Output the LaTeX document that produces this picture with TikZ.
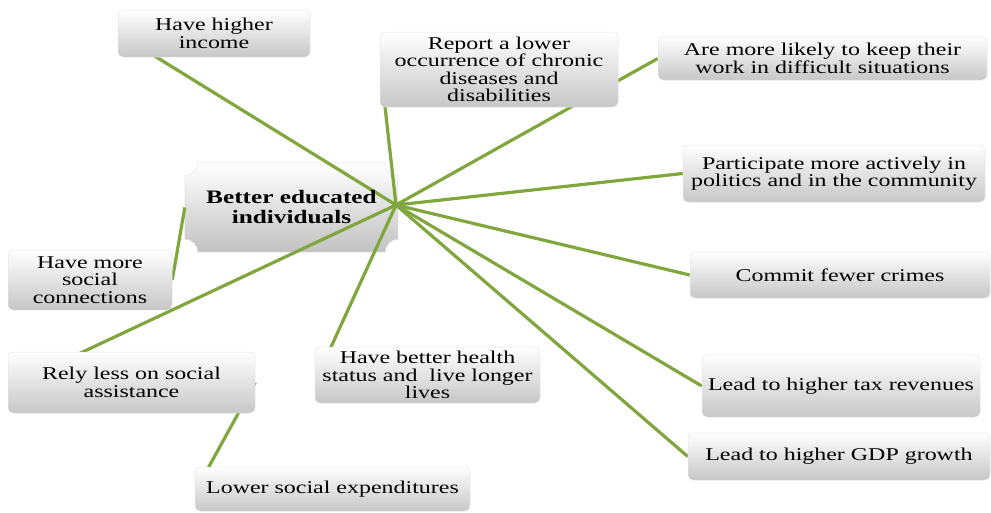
\documentclass[tikz,border=0pt]{standalone}
\usepackage{fontspec}
\setmainfont{Liberation Serif}[FakeStretch=1.33]
\usetikzlibrary{calc}
\definecolor{linegreen}{RGB}{128,166,62}
\pgfdeclarelayer{plaquelayer}
\pgfdeclarelayer{linelayer}
\pgfsetlayers{plaquelayer,linelayer,main}
\begin{document}
\begin{tikzpicture}[x=1pt,y=-1pt,
  box/.style={rounded corners=5pt, top color=white, bottom color=black!22,
    draw=black!10, line width=0.5pt, align=center, inner sep=0pt,
    font=\fontsize{18pt}{17.5pt}\selectfont},
  conn/.style={draw=linegreen, line width=3.2pt}]
\useasboundingbox (0,0) rectangle (991,512);

% outer boxes
\node[box, minimum width=192pt, minimum height=47pt] (income) at (214,33.5) {Have higher\\income};
\node[box, minimum width=238pt, minimum height=75pt] (report) at (499,69.5) {Report a lower\\occurrence of chronic\\diseases and\\disabilities};
\node[box, minimum width=329pt, minimum height=43pt] (likely) at (822.5,58.5) {Are more likely to keep their\\work in difficult situations};
\node[box, minimum width=302pt, minimum height=57pt] (particip) at (834,173.5) {Participate more actively in\\politics and in the community};
\node[box, minimum width=164pt, minimum height=60pt] (social) at (90,280) {Have more\\social\\connections};
\node[box, minimum width=300pt, minimum height=46pt] (crimes) at (840,275) {Commit fewer crimes};
\node[box, minimum width=247pt, minimum height=61pt] (rely) at (131.5,382.5) {Rely less on social\\assistance};
\node[box, minimum width=225pt, minimum height=56pt] (health) at (427.5,375) {Have better health\\status and \ live longer\\lives};
\node[box, minimum width=278pt, minimum height=62pt] (tax) at (841,386) {Lead to higher tax revenues};
\node[box, minimum width=302pt, minimum height=47pt] (gdp) at (839,456.5) {Lead to higher GDP growth};
\node[box, minimum width=275pt, minimum height=44pt] (lower) at (332.5,489) {Lower social expenditures};

% central plaque
\node[align=center, inner sep=0pt, minimum width=213pt, minimum height=89pt,
  font=\fontsize{19pt}{20pt}\selectfont\bfseries] (edu) at (291.5,207.5) {Better educated\\individuals};
\begin{pgfonlayer}{plaquelayer}
\path[top color=white, bottom color=black!24, draw=black!10, line width=0.5pt]
  ($(edu.north west)+(13pt,0pt)$) -- ($(edu.north east)+(-13pt,0pt)$)
  arc[start angle=180, end angle=270, radius=13pt]
  -- ($(edu.south east)+(0pt,13pt)$)
  arc[start angle=90, end angle=180, radius=13pt]
  -- ($(edu.south west)+(13pt,0pt)$)
  arc[start angle=0, end angle=90, radius=13pt]
  -- ($(edu.north west)+(0pt,-13pt)$)
  arc[start angle=270, end angle=360, radius=13pt]
  -- cycle;
\end{pgfonlayer}

\coordinate (hub) at (396,205);

\begin{pgfonlayer}{linelayer}
\draw[conn] (hub) -- ($(income.south west)+(34pt,3pt)$);
\draw[conn] (hub) -- ($(report.south west)+(5pt,3pt)$);
\draw[conn] (hub) -- (likely.west);
\draw[conn] (hub) -- (particip.west);
\draw[conn] (hub) -- (crimes.west);
\draw[conn] (hub) -- (tax.west);
\draw[conn] (hub) -- (gdp.west);
\draw[conn] (hub) -- ($(health.north west)+(15pt,-3pt)$);
\draw[conn] (hub) -- ($(rely.north west)+(69pt,-3pt)$);
\draw[conn] (social.east) -- (edu.west);
\draw[conn] (rely.east) -- ($(lower.north west)+(13pt,-2pt)$);
\end{pgfonlayer}
\end{tikzpicture}
\end{document}
